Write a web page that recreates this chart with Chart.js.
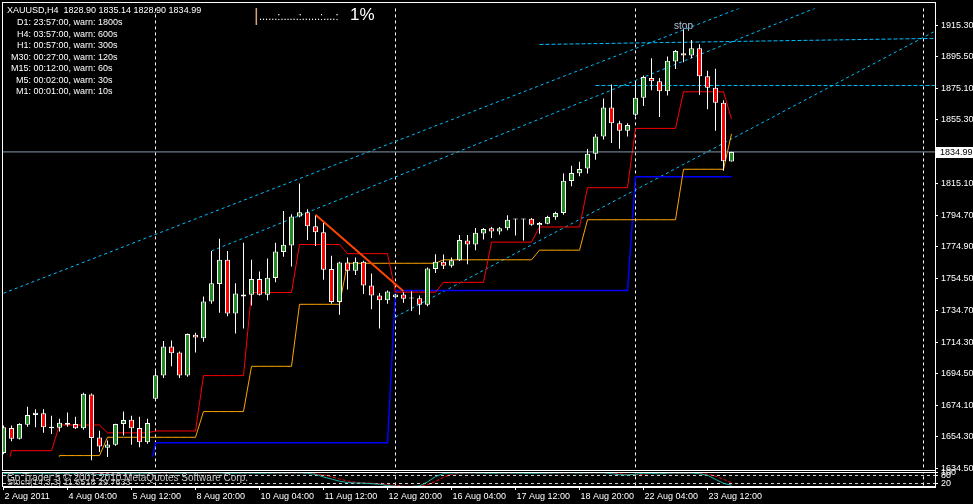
<!DOCTYPE html>
<html>
<head>
<meta charset="utf-8">
<script src="https://cdn.jsdelivr.net/npm/chart.js@4.4.0/dist/chart.umd.min.js"></script>
<style>
  html, body { margin: 0; padding: 0; background: #000; }
  #wrap { position: relative; width: 973px; height: 504px; }
</style>
</head>
<body>
<div id="wrap"><canvas id="grafico"></canvas></div>
<script>
const grafico = document.querySelector('#grafico')

// eixo x: indice da barra H4, rotulos a cada 8 barras
const labels_x = ['2 Aug 2011', '4 Aug 04:00', '5 Aug 12:00', '8 Aug 20:00', '10 Aug 04:00', '11 Aug 12:00',
  '12 Aug 20:00', '16 Aug 04:00', '17 Aug 12:00', '18 Aug 20:00', '22 Aug 04:00', '23 Aug 12:00']
const ticks_x = [0, 8, 16, 24, 32, 40, 48, 56, 64, 72, 80, 88]
const ticks_y = [1915.30, 1895.50, 1875.10, 1855.30, 1815.10, 1794.70, 1774.90, 1754.50, 1734.70, 1714.30,
  1694.50, 1674.10, 1654.30, 1634.50]
const ticks_stoch = [100, 80, 20]
const niveis_stoch = [80, 20]
const separadores = [19, 49, 79, 115]

// velas XAUUSD H4
const data_open = [
  1644.1, 1660.0, 1653.1, 1662.1, 1668.3, 1669.4, 1660.8, 1660.2, 1662.1, 1662.5,
  1659.8, 1681.3, 1653.9, 1647.5, 1649.4, 1662.5, 1665.2, 1660.0, 1651.0, 1678.6,
  1693.2, 1711.6, 1707.8, 1693.2, 1719.1, 1716.8, 1740.2, 1751.3, 1766.6, 1732.5,
  1744.6, 1744.4, 1754.4, 1744.4, 1755.0, 1771.6, 1775.7, 1794.1, 1796.7, 1787.9,
  1784.1, 1760.7, 1739.8, 1764.9, 1759.7, 1765.3, 1750.3, 1744.0, 1740.9, 1742.9,
  1744.6, 1742.5, 1742.3, 1738.1, 1760.7, 1765.3, 1762.8, 1766.3, 1778.8, 1776.3,
  1783.2, 1786.6, 1784.5, 1786.6, 1792.2, 1792.5, 1792.6, 1788.5, 1789.5, 1793.5,
  1796.2, 1816.5, 1821.5, 1824.4, 1833.8, 1844.7, 1863.1, 1853.1, 1848.4, 1858.5,
  1869.4, 1881.9, 1879.8, 1873.5, 1892.3, 1897.6, 1896.1, 1900.7, 1882.9, 1875.6,
  1866.2, 1828.90]
const data_high = [
  1661.5, 1661.5, 1663.0, 1673.4, 1671.8, 1671.9, 1667.7, 1665.8, 1669.8, 1667.1,
  1682.3, 1681.9, 1658.3, 1652.1, 1662.7, 1670.4, 1667.7, 1667.1, 1665.8, 1696.4,
  1715.2, 1715.4, 1708.5, 1719.9, 1720.4, 1743.4, 1772.2, 1779.9, 1772.2, 1751.7,
  1777.4, 1766.6, 1759.2, 1767.4, 1777.4, 1797.5, 1795.4, 1815.0, 1798.7, 1794.5,
  1789.9, 1769.1, 1765.3, 1768.0, 1768.0, 1766.0, 1758.0, 1745.6, 1747.1, 1745.0,
  1746.1, 1746.7, 1744.0, 1761.7, 1770.1, 1769.9, 1768.0, 1782.4, 1782.4, 1786.8,
  1786.8, 1787.4, 1787.4, 1794.8, 1792.6, 1792.6, 1793.1, 1790.6, 1794.5, 1797.0,
  1821.3, 1826.3, 1828.8, 1836.8, 1846.4, 1868.9, 1877.7, 1854.7, 1853.1, 1879.0,
  1883.5, 1894.4, 1881.9, 1895.4, 1899.6, 1912.8, 1905.9, 1903.2, 1886.5, 1887.7,
  1867.7, 1835.14]
const data_low = [
  1643.3, 1651.6, 1652.7, 1660.8, 1660.4, 1656.9, 1656.2, 1657.7, 1660.8, 1659.3,
  1658.9, 1639.5, 1644.7, 1641.6, 1648.7, 1655.2, 1649.4, 1647.8, 1650.0, 1677.1,
  1691.7, 1699.1, 1691.7, 1692.4, 1707.8, 1714.7, 1738.7, 1733.1, 1730.8, 1719.9,
  1723.1, 1737.7, 1744.0, 1740.9, 1752.3, 1768.6, 1762.4, 1793.5, 1779.1, 1775.3,
  1754.0, 1738.7, 1731.8, 1747.8, 1756.9, 1745.0, 1735.2, 1723.1, 1738.7, 1742.3,
  1739.4, 1734.2, 1731.8, 1737.1, 1758.2, 1760.7, 1761.7, 1765.9, 1763.8, 1772.6,
  1779.5, 1780.5, 1782.6, 1785.4, 1782.0, 1778.9, 1788.2, 1783.1, 1789.1, 1792.0,
  1795.1, 1813.3, 1819.6, 1821.3, 1830.1, 1842.8, 1840.7, 1837.0, 1844.7, 1857.8,
  1864.1, 1874.1, 1857.2, 1870.8, 1887.5, 1891.9, 1894.4, 1871.0, 1862.0, 1848.4,
  1823.0, 1828.90]
const data_close = [
  1660.4, 1653.1, 1662.5, 1668.2, 1669.6, 1660.4, 1659.9, 1663.3, 1663.1, 1659.8,
  1681.7, 1653.7, 1648.3, 1649.5, 1662.5, 1665.0, 1659.8, 1651.0, 1663.1, 1693.4,
  1711.6, 1707.4, 1693.2, 1719.6, 1717.4, 1740.2, 1751.7, 1766.6, 1732.5, 1745.3,
  1743.4, 1754.4, 1744.4, 1755.3, 1771.8, 1776.2, 1794.1, 1796.7, 1787.9, 1784.1,
  1760.3, 1739.8, 1764.9, 1759.7, 1765.3, 1750.3, 1744.0, 1740.9, 1746.5, 1744.6,
  1741.9, 1742.1, 1738.1, 1761.1, 1765.3, 1762.8, 1766.3, 1779.1, 1776.3, 1783.7,
  1786.2, 1784.5, 1786.6, 1792.0, 1792.5, 1792.2, 1788.9, 1789.9, 1793.7, 1796.2,
  1816.7, 1821.7, 1824.2, 1833.8, 1844.7, 1863.1, 1853.1, 1848.4, 1852.0, 1869.4,
  1882.5, 1879.8, 1873.5, 1892.7, 1899.0, 1896.1, 1900.7, 1882.9, 1875.6, 1866.2,
  1829.0, 1834.99]

// indicadores em degrau
const data_red = [
  1627.0, 1645.6, 1645.6, 1645.6, 1645.6, 1645.6, 1645.6, 1661.9, 1661.9, 1661.9,
  1661.9, 1661.9, 1661.9, 1656.9, 1656.9, 1656.9, 1656.9, 1656.9, 1656.9, 1658.1,
  1658.1, 1658.1, 1658.1, 1658.1, 1658.1, 1693.2, 1693.2, 1693.2, 1693.2, 1693.2,
  1693.2, 1745.9, 1745.9, 1745.9, 1745.9, 1745.9, 1745.9, 1776.3, 1776.3, 1776.3,
  1776.3, 1776.3, 1776.3, 1770.5, 1770.5, 1770.5, 1770.5, 1770.5, 1770.5, 1746.1,
  1746.1, 1746.1, 1746.1, 1746.1, 1746.1, 1752.3, 1752.3, 1752.3, 1752.3, 1752.3,
  1752.3, 1777.8, 1777.8, 1777.8, 1777.8, 1777.8, 1777.8, 1787.4, 1787.4, 1787.4,
  1787.4, 1787.4, 1787.4, 1812.3, 1812.3, 1812.3, 1812.3, 1812.3, 1812.3, 1849.9,
  1849.9, 1849.9, 1849.9, 1849.9, 1849.9, 1873.1, 1873.1, 1873.1, 1873.1, 1873.1,
  1873.1, 1855.8]
const data_orange = [
  1623.8, 1623.8, 1623.8, 1623.8, 1623.8, 1623.8, 1623.8, 1642.5, 1642.5, 1642.5,
  1642.5, 1642.5, 1642.5, 1654.1, 1654.1, 1654.1, 1654.1, 1654.1, 1654.1, 1654.1,
  1654.1, 1654.1, 1654.1, 1654.1, 1654.1, 1670.4, 1670.4, 1670.4, 1670.4, 1670.4,
  1670.4, 1699.1, 1699.1, 1699.1, 1699.1, 1699.1, 1699.1, 1738.4, 1738.4, 1738.4,
  1738.4, 1738.4, 1738.4, 1764.4, 1764.4, 1764.4, 1764.4, 1764.4, 1764.4, 1764.4,
  1764.4, 1764.4, 1764.4, 1764.4, 1764.4, 1766.6, 1766.6, 1766.6, 1766.6, 1766.6,
  1766.6, 1766.6, 1766.6, 1766.6, 1766.6, 1766.6, 1766.6, 1772.7, 1772.7, 1772.7,
  1772.7, 1772.7, 1772.7, 1792.0, 1792.0, 1792.0, 1792.0, 1792.0, 1792.0, 1792.0,
  1792.0, 1792.0, 1792.0, 1792.0, 1792.0, 1824.0, 1824.0, 1824.0, 1824.0, 1824.0,
  1824.0, 1846.4]
const data_blue = [
  null, null, null, null, null, null, null, null, null, null,
  null, null, null, null, null, null, null, null, 1624.0, 1650.6,
  1650.6, 1650.6, 1650.6, 1650.6, 1650.6, 1650.6, 1650.6, 1650.6, 1650.6, 1650.6,
  1650.6, 1650.6, 1650.6, 1650.6, 1650.6, 1650.6, 1650.6, 1650.6, 1650.6, 1650.6,
  1650.6, 1650.6, 1650.6, 1650.6, 1650.6, 1650.6, 1650.6, 1650.6, 1650.6, 1747.1,
  1747.1, 1747.1, 1747.1, 1747.1, 1747.1, 1747.1, 1747.1, 1747.1, 1747.1, 1747.1,
  1747.1, 1747.1, 1747.1, 1747.1, 1747.1, 1747.1, 1747.1, 1747.1, 1747.1, 1747.1,
  1747.1, 1747.1, 1747.1, 1747.1, 1747.1, 1747.1, 1747.1, 1747.1, 1747.1, 1819.2,
  1819.2, 1819.2, 1819.2, 1819.2, 1819.2, 1819.2, 1819.2, 1819.2, 1819.2, 1819.2,
  1819.2, 1819.2]

// Stoch(14,3,3)
const data_stoch = [
  95, 93, 94, 96, 97, 95, 92, 94, 96, 95,
  97, 93, 88, 87, 91, 94, 93, 92, 94, 97,
  99, 98, 96, 98, 97, 99, 99, 98, 95, 96,
  97, 97, 96, 97, 98, 98, 99, 99, 96, 88,
  70, 55, 40, 30, 27, 26, 22, 18, 9, 4,
  2, 2, 6, 35, 72, 95, 98, 98, 99, 98,
  97, 96, 97, 98, 97, 96, 95, 96, 97, 98,
  99, 99, 98, 99, 99, 99, 94, 86, 84, 90,
  96, 95, 92, 97, 98, 97, 98, 93, 82, 53,
  25, 11.6518]
const data_signal = [
  94, 94, 94, 94, 96, 96, 95, 94, 94, 95,
  96, 95, 93, 89, 89, 91, 93, 93, 93, 94,
  97, 98, 98, 97, 97, 98, 98, 99, 97, 96,
  96, 97, 97, 97, 97, 98, 98, 99, 98, 94,
  85, 71, 55, 42, 32, 28, 25, 22, 16, 10,
  5, 3, 3, 14, 38, 67, 88, 97, 98, 98,
  98, 97, 97, 97, 97, 97, 96, 96, 96, 97,
  98, 99, 99, 99, 99, 99, 97, 93, 88, 87,
  90, 94, 94, 95, 96, 97, 98, 96, 91, 76,
  53, 29.7633]

// objetos desenhados (indice, preco)
const canal_a = [[0, 1745.4], [117, 1975.2]]
const canal_b = [[26, 1772.2], [117, 1957.8]]
const canal_c = [[49, 1730.4], [117, 1913.0]]
const linha_topo = [[67, 1903.1], [117, 1907.0]]
const linha_1877 = [[74, 1877.1], [117, 1877.1]]
const tendencia = [[39, 1795.2], [50, 1746.7]]
const stop_label = [85, 1914.7]

const cabecalho = 'XAUUSD,H4  1828.90 1835.14 1828.90 1834.99'
const linhas_info = ['D1: 23:57:00, warn: 1800s', 'H4: 03:57:00, warn: 600s', 'H1: 00:57:00, warn: 300s',
  'M30: 00:27:00, warn: 120s', 'M15: 00:12:00, warn: 60s', 'M5: 00:02:00, warn: 30s', 'M1: 00:01:00, warn: 10s']

Chart.defaults.font.family = '"Liberation Sans", Arial, sans-serif'
Chart.defaults.font.size = 9
Chart.defaults.color = '#fff'

function serie(valores) {
  return valores.map((v, i) => ({x: i, y: v}))
}
function segmento(pontos) {
  return pontos.map(p => ({x: p[0], y: p[1]}))
}

const ultimo = data_close[data_close.length - 1]
const cor_vela = data_close.map((c, i) => c >= data_open[i] ? '#228b22' : '#ff0000')
const recorte = {left: 0, top: 0, right: 0, bottom: -16}

function linha(label, data, cor, largura, tracejado, eixo) {
  return {
    type: 'line', label: label, data: data, borderColor: cor, borderWidth: largura,
    borderDash: tracejado || [], pointRadius: 0, tension: 0, fill: false,
    yAxisID: eixo || 'y', clip: eixo ? undefined : recorte,
  }
}

const decor = {
  id: 'decor',
  beforeDraw(chart) {
    const c = chart.ctx
    c.save()
    c.fillStyle = '#000'
    c.fillRect(0, 0, chart.width, chart.height)
    c.restore()
  },
  beforeDatasetsDraw(chart) {
    const c = chart.ctx, a = chart.chartArea, sx = chart.scales.x, ss = chart.scales.ys
    c.save()
    c.strokeStyle = '#fff'
    c.lineWidth = 1
    c.setLineDash([3, 3])
    separadores.forEach(i => {
      const px = Math.floor(sx.getPixelForValue(i)) + 0.5
      c.beginPath(); c.moveTo(px, a.top); c.lineTo(px, a.bottom); c.stroke()
    })
    c.strokeStyle = '#d0d0d0'
    niveis_stoch.forEach(v => {
      const py = Math.floor(ss.getPixelForValue(v)) + 0.5
      c.beginPath(); c.moveTo(a.left, py); c.lineTo(a.right, py); c.stroke()
    })
    c.restore()
  },
  afterDatasetsDraw(chart) {
    const c = chart.ctx, a = chart.chartArea
    const yb = Math.floor(chart.scales.y.bottom)
    c.save()
    c.fillStyle = '#000'
    c.fillRect(a.left, yb - 1, a.right - a.left, 1)
    c.strokeStyle = '#fff'
    c.lineWidth = 1
    c.strokeRect(2.5, 2.5, a.right - 2, yb - 4)
    c.strokeRect(2.5, yb + 0.5, a.right - 2, a.bottom - yb - 1)
    c.restore()
  },
  afterDraw(chart) {
    const c = chart.ctx, sx = chart.scales.x, sy = chart.scales.y
    c.save()
    c.textBaseline = 'middle'
    c.textAlign = 'left'
    c.fillStyle = '#fff'
    c.font = '9px "Liberation Sans"'
    c.fillText(cabecalho, 7, 11)
    linhas_info.forEach((t, k) => {
      const prefixo = t.split(' ')[0]
      c.fillText(t, 31 - c.measureText(prefixo).width, 22.7 + k * 11.55)
    })

    c.textBaseline = 'alphabetic'
    c.fillStyle = '#d2a679'
    c.font = '18px "Liberation Sans"'
    c.fillText('|', 254, 21)
    c.fillStyle = '#fff'
    c.font = '11px "Liberation Sans"'
    c.fillText('......:......:......:....:', 259, 20)
    c.textBaseline = 'middle'
    c.font = '17px "Liberation Sans"'
    c.fillText('1%', 350, 15)

    c.fillStyle = '#b0c4de'
    c.font = '10px "Liberation Sans"'
    c.textAlign = 'center'
    c.fillText('stop', sx.getPixelForValue(stop_label[0]), sy.getPixelForValue(stop_label[1]))

    c.textAlign = 'left'
    c.fillStyle = '#c8c8c8'
    c.font = '10px "Liberation Sans"'
    c.fillText('Go Trader 5 \u00a9 2001-2010 MetaQuotes Software Corp.', 7, 478)
    c.font = '9px "Liberation Sans"'
    c.fillText('Stoch(14,3,3) 11.6518 29.7633', 7, 482.5)

    const py = Math.round(sy.getPixelForValue(ultimo))
    c.fillStyle = '#fff'
    c.fillRect(936, py - 5, 37, 11)
    c.fillStyle = '#000'
    c.font = '9px "Liberation Sans"'
    c.fillText(ultimo.toFixed(2), 940, py + 0.5)
    c.restore()
  }
}

const data = {
  datasets: [
    {
      type: 'bar', label: 'corpo',
      data: data_open.map((o, i) => ({x: i, y: [o, data_close[i]]})),
      backgroundColor: cor_vela, borderColor: '#fff', borderWidth: 1, borderSkipped: false,
      barThickness: 5, minBarLength: 1, grouped: false, inflateAmount: 0, yAxisID: 'y',
    },
    {
      type: 'bar', label: 'sombra',
      data: data_low.map((l, i) => ({x: i, y: [l, data_high[i]]})),
      backgroundColor: '#fff', borderWidth: 0, barThickness: 1, grouped: false, inflateAmount: 0, yAxisID: 'y',
    },
    linha('bid', segmento([[-1, ultimo], [117, ultimo]]), '#8899aa', 1),
    linha('tendencia', segmento(tendencia), '#ff4500', 2),
    linha('vermelho', serie(data_red), '#ff0000', 1),
    linha('laranja', serie(data_orange), '#ffa500', 1),
    linha('azul', serie(data_blue), '#0000ff', 1.5),
    linha('canal a', segmento(canal_a), '#00bfff', 1, [3, 3]),
    linha('canal b', segmento(canal_b), '#00bfff', 1, [3, 3]),
    linha('canal c', segmento(canal_c), '#00bfff', 1, [3, 3]),
    linha('topo', segmento(linha_topo), '#00bfff', 1, [4, 2]),
    linha('1877', segmento(linha_1877), '#00bfff', 1, [4, 2]),
    linha('stoch', serie(data_stoch), '#20b2aa', 1, [], 'ys'),
    linha('signal', serie(data_signal), '#ff0000', 1, [3, 2], 'ys'),
  ]
}

const config = {
  type: 'bar',
  data: data,
  options: {
    responsive: true,
    maintainAspectRatio: false,
    animation: false,
    devicePixelRatio: 1,
    events: [],
    layout: {autoPadding: false, padding: {left: 3, top: 3, right: 0, bottom: 0}},
    plugins: {legend: {display: false}, tooltip: {enabled: false}},
    scales: {
      x: {
        type: 'linear', min: -0.0625, max: 116.4375, offset: false,
        afterBuildTicks: s => { s.ticks = ticks_x.map(v => ({value: v})) },
        afterFit: s => { s.height = 17 },
        ticks: {color: '#fff', font: {size: 9}, align: 'start', labelOffset: 1, padding: 1,
          maxRotation: 0, autoSkip: false, callback: (v, i) => labels_x[i]},
        grid: {drawOnChartArea: false, offset: false, color: '#fff', tickLength: 3},
        border: {color: '#fff'}
      },
      y: {
        type: 'linear', position: 'right', stack: 'painel', stackWeight: 469.5,
        min: 1631.68, max: 1925.96, beginAtZero: false,
        afterBuildTicks: s => { s.ticks = ticks_y.map(v => ({value: v})) },
        afterFit: s => { s.width = 38 },
        ticks: {color: '#fff', font: {size: 9}, padding: 3, autoSkip: false, callback: v => v.toFixed(2)},
        grid: {drawOnChartArea: false, color: '#fff', tickLength: 3},
        border: {color: '#fff'}
      },
      ys: {
        type: 'linear', position: 'right', stack: 'painel', stackWeight: 14.5,
        min: -1.5, max: 100.5, beginAtZero: false,
        afterBuildTicks: s => { s.ticks = ticks_stoch.map(v => ({value: v})) },
        afterFit: s => { s.width = 38 },
        ticks: {color: '#fff', font: {size: 9}, padding: 3, autoSkip: false, callback: v => String(v)},
        grid: {drawOnChartArea: false, color: '#fff', tickLength: 3},
        border: {color: '#fff'}
      }
    }
  },
  plugins: [decor]
}

const graficoGeral = new Chart(
  grafico,
  config,
)
</script>
</body>
</html>
